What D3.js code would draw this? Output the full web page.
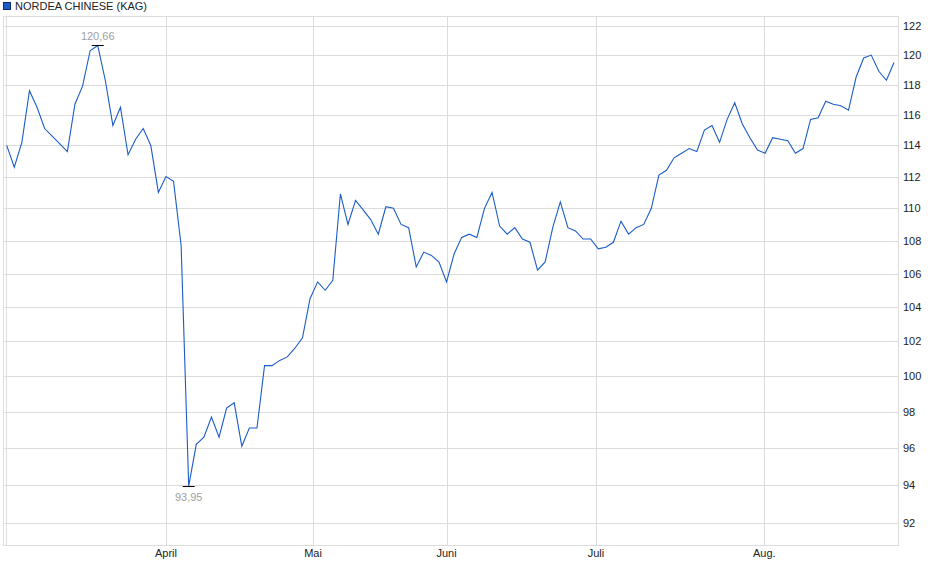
<!DOCTYPE html>
<html>
<head>
<meta charset="utf-8">
<script src="https://cdn.jsdelivr.net/npm/d3@7"></script>
<style>
  body { margin: 0; background: #fff; }
  text { font-family: "Liberation Sans", Arial, sans-serif; }
</style>
</head>
<body>
<svg id="chart" width="940" height="579"></svg>
<script>
const seriesName = "NORDEA CHINESE (KAG)";

const prices = [
  114.0, 112.6, 114.2, 117.6, 116.5, 115.1, 114.6, 114.1, 113.6, 116.7,
  117.9, 120.3, 120.66, 118.3, 115.3, 116.5, 113.4, 114.4, 115.1, 114.0,
  111.0, 112.0, 111.7, 107.7, 93.95, 96.2, 96.6, 97.7, 96.6, 98.2,
  98.5, 96.1, 97.1, 97.1, 100.6, 100.6, 100.9, 101.1, 101.6, 102.2,
  104.5, 105.5, 105.0, 105.6, 110.9, 109.0, 110.5, 109.9, 109.3, 108.4,
  110.1, 110.0, 109.0, 108.8, 106.4, 107.3, 107.1, 106.7, 105.5, 107.2,
  108.2, 108.4, 108.2, 110.0, 111.0, 108.9, 108.4, 108.8, 108.1, 107.9,
  106.2, 106.7, 108.8, 110.4, 108.8, 108.6, 108.1, 108.1, 107.5, 107.6,
  107.9, 109.2, 108.4, 108.8, 109.0, 110.0, 112.1, 112.4, 113.2, 113.5,
  113.8, 113.6, 115.0, 115.3, 114.2, 115.7, 116.8, 115.4, 114.5, 113.7,
  113.5, 114.5, 114.4, 114.3, 113.5, 113.8, 115.7, 115.8, 116.9, 116.7,
  116.6, 116.3, 118.5, 119.8, 120.0, 118.9, 118.3, 119.5
];

// month starts as (fractional) trading-day index
const monthLabels = ["", "April", "Mai", "Juni", "Juli", "Aug."];
const monthIndex = [-0.1, 21, 40.4, 58, 77.7, 99.9];

const yTicks = [92, 94, 96, 98, 100, 102, 104, 106, 108, 110, 112, 114, 116, 118, 120, 122];

const svg = d3.select("#chart");
const plotLeft = 3, plotRight = 898, plotTop = 16, plotBottom = 545;

const x = d3.scaleLinear().domain([0, prices.length - 1]).range([6.7, 894]);
// log price axis
const y = d3.scaleLog().domain([92, 122]).range([523, 26]);

const grid = svg.append("g").attr("stroke", "#dcdcdc").attr("stroke-width", 1);

yTicks.forEach((t) => {
  grid.append("line")
    .attr("x1", plotLeft).attr("x2", plotRight)
    .attr("y1", Math.round(y(t)) + 0.5).attr("y2", Math.round(y(t)) + 0.5);
});

monthIndex.forEach((m) => {
  grid.append("line")
    .attr("x1", Math.round(x(m)) + 0.5).attr("x2", Math.round(x(m)) + 0.5)
    .attr("y1", plotTop).attr("y2", plotBottom);
});

svg.append("rect")
  .attr("x", plotLeft + 0.5).attr("y", plotTop + 0.5)
  .attr("width", plotRight - plotLeft).attr("height", plotBottom - plotTop)
  .attr("fill", "none").attr("stroke", "#dcdcdc");

// y labels
svg.append("g").selectAll("text")
  .data(yTicks)
  .join("text")
  .attr("x", 903)
  .attr("y", (d) => y(d) + 4)
  .attr("font-size", 11)
  .attr("fill", "#222")
  .text((d) => d);

// month labels
svg.append("g").selectAll("text")
  .data(monthLabels)
  .join("text")
  .attr("x", (d, i) => x(monthIndex[i]))
  .attr("y", 557)
  .attr("text-anchor", "middle")
  .attr("font-size", 11)
  .attr("fill", "#222")
  .text((d) => d);

// price line
const line = d3.line()
  .x((d, i) => x(i))
  .y((d) => y(d));

svg.append("path")
  .datum(prices)
  .attr("d", line)
  .attr("fill", "none")
  .attr("stroke", "#1a5cc8")
  .attr("stroke-width", 1.1);

// high / low markers
const hiIdx = d3.maxIndex(prices);
const loIdx = d3.minIndex(prices);
const fmt = (v) => v.toFixed(2).replace(".", ",");

[[hiIdx, -5], [loIdx, 15]].forEach(([i, dy]) => {
  const px = x(i), py = y(prices[i]);
  svg.append("line")
    .attr("x1", px - 6).attr("x2", px + 6)
    .attr("y1", Math.round(py) + 0.5).attr("y2", Math.round(py) + 0.5)
    .attr("stroke", "#000");
  svg.append("text")
    .attr("x", px)
    .attr("y", py + dy)
    .attr("text-anchor", "middle")
    .attr("font-size", 11)
    .attr("fill", "#a0a0a0")
    .text(fmt(prices[i]));
});

// legend
svg.append("rect")
  .attr("x", 3.5).attr("y", 2.5).attr("width", 7).attr("height", 7)
  .attr("fill", "#1a5cc8").attr("stroke", "#0b2a66");
svg.append("text")
  .attr("x", 15).attr("y", 10)
  .attr("font-size", 11)
  .attr("fill", "#222")
  .text(seriesName);
</script>
</body>
</html>
